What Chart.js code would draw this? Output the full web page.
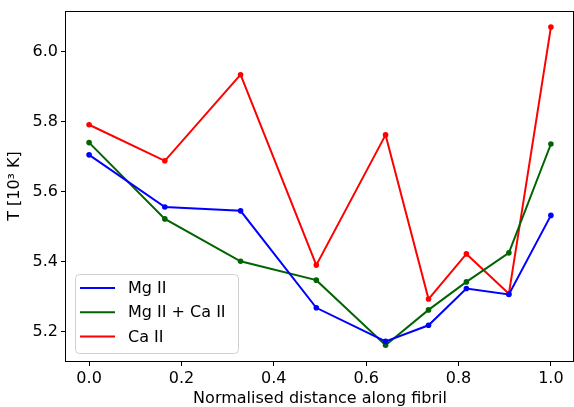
<!DOCTYPE html>
<html>
<head>
<meta charset="utf-8">
<script src="https://cdn.jsdelivr.net/npm/chart.js@4/dist/chart.umd.min.js"></script>
<style>
  html, body { margin: 0; padding: 0; background: #fff; }
  #wrap { width: 574px; height: 407px; }
</style>
</head>
<body>
<div id="wrap"><canvas id="chart" width="574" height="407"></canvas></div>
<script>
const distance = [0, 0.164, 0.328, 0.492, 0.642, 0.735, 0.817, 0.909, 1.0];
const mgII = [5.705, 5.556, 5.545, 5.268, 5.172, 5.218, 5.323, 5.306, 5.532];
const mgCaII = [5.740, 5.522, 5.401, 5.347, 5.161, 5.262, 5.342, 5.425, 5.736];
const caII = [5.791, 5.688, 5.934, 5.390, 5.762, 5.293, 5.422, 5.308, 6.070];
const seriesNames = ['Mg II', 'Mg II + Ca II', 'Ca II'];
const xTicks = [0.0, 0.2, 0.4, 0.6, 0.8, 1.0];
const yTicks = [5.2, 5.4, 5.6, 5.8, 6.0];

const FONT = 'DejaVu Sans';
const colors = ['#0000ff', '#006400', '#ff0000'];

const toPoints = ys => ys.map((y, i) => ({ x: distance[i], y }));

// matplotlib style frame around the plot area
const frame = {
  id: 'frame',
  afterDraw(chart) {
    const { ctx, chartArea: a } = chart;
    const l = Math.round(a.left) - 0.5, r = Math.round(a.right) - 0.5;
    const t = Math.round(a.top) + 0.5, b = Math.round(a.bottom) + 0.5;
    ctx.save();
    ctx.strokeStyle = '#000';
    ctx.lineWidth = 1;
    ctx.strokeRect(l, t, r - l, b - t);
    ctx.restore();
  }
};

// legend box in the lower left corner
const boxLegend = {
  id: 'boxLegend',
  afterDraw(chart) {
    const { ctx } = chart;
    const x = 75, y = 274, w = 163, h = 79, r = 4;
    ctx.save();
    ctx.beginPath();
    ctx.roundRect(x + 0.5, y + 0.5, w, h, r);
    ctx.fillStyle = 'rgba(255,255,255,0.8)';
    ctx.fill();
    ctx.strokeStyle = '#d0d0d0';
    ctx.lineWidth = 1;
    ctx.stroke();
    ctx.font = '16px "' + FONT + '"';
    ctx.textBaseline = 'middle';
    chart.data.datasets.forEach((ds, i) => {
      const ly = 288 + i * 24.3;
      ctx.strokeStyle = ds.borderColor;
      ctx.lineWidth = 2;
      ctx.beginPath();
      ctx.moveTo(80, ly);
      ctx.lineTo(115, ly);
      ctx.stroke();
      ctx.fillStyle = '#000';
      ctx.fillText(ds.label, 128, ly + 1);
    });
    ctx.restore();
  }
};

new Chart(document.getElementById('chart'), {
  type: 'line',
  data: {
    datasets: [mgII, mgCaII, caII].map((ys, i) => ({
      label: seriesNames[i],
      data: toPoints(ys),
      borderColor: colors[i],
      backgroundColor: colors[i],
      borderWidth: 2,
      pointRadius: 2.8,
      pointBorderWidth: 0,
      tension: 0,
      fill: false
    }))
  },
  options: {
    responsive: false,
    animation: false,
    devicePixelRatio: 1,
    layout: { autoPadding: false, padding: { top: 11, right: 0, left: 0, bottom: 0 } },
    plugins: { legend: { display: false }, tooltip: { enabled: false } },
    scales: {
      x: {
        type: 'linear',
        min: -0.05,
        max: 1.05,
        afterBuildTicks: s => { s.ticks = xTicks.map(v => ({ value: v })); },
        afterFit: s => { s.height = 46; s.paddingLeft = 0; s.paddingRight = 0; },
        grid: { drawOnChartArea: false, drawTicks: true, tickLength: 5, color: '#000' },
        border: { display: false },
        ticks: {
          color: '#000',
          padding: 3,
          maxRotation: 0,
          font: { family: FONT, size: 16 },
          callback: v => v.toFixed(1)
        },
        title: {
          display: true,
          text: 'Normalised distance along fibril',
          color: '#000',
          font: { family: FONT, size: 16 },
          padding: { top: 0, bottom: -1 }
        }
      },
      y: {
        type: 'linear',
        min: 5.116,
        max: 6.116,
        afterBuildTicks: s => { s.ticks = yTicks.map(v => ({ value: v })); },
        afterFit: s => { s.width = 66; s.paddingTop = 0; s.paddingBottom = 0; },
        grid: { drawOnChartArea: false, drawTicks: true, tickLength: 5, color: '#000' },
        border: { display: false },
        ticks: {
          color: '#000',
          padding: 3,
          font: { family: FONT, size: 16 },
          callback: v => v.toFixed(1)
        },
        title: {
          display: true,
          text: 'T [10³ K]',
          color: '#000',
          font: { family: FONT, size: 16 },
          padding: { top: 5, bottom: 0 }
        }
      }
    }
  },
  plugins: [frame, boxLegend]
});
</script>
</body>
</html>
